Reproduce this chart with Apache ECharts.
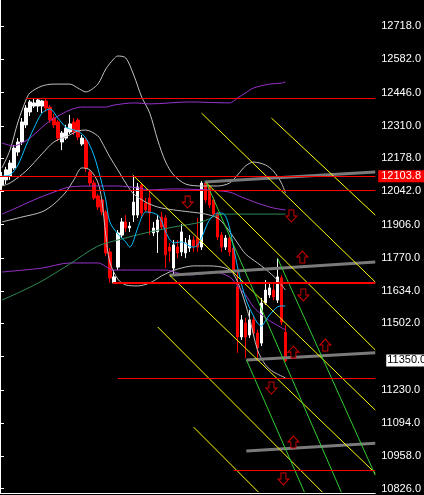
<!DOCTYPE html>
<html><head><meta charset="utf-8">
<script src="https://cdn.jsdelivr.net/npm/echarts@6/dist/echarts.min.js"></script>
<style>html,body{margin:0;padding:0;background:#000;}#c{width:424px;height:495px;}</style>
</head><body><div id="c"></div>
<script>
// ---------- DATA ----------
const slotCount = 94; // bars + empty space to the right
const candles = [ // [open, close, low, high]
[12068,12101,12048,12121],[12089,12130,12072,12142],[12105,12158,12089,12170],[12138,12219,12130,12232],
[12203,12244,12187,12260],[12244,12326,12232,12342],[12314,12383,12301,12395],[12367,12408,12350,12416],
[12391,12404,12383,12420],[12391,12416,12367,12424],[12391,12412,12363,12416],[12412,12383,12367,12420],
[12387,12334,12322,12395],[12342,12314,12301,12359],[12326,12260,12248,12334],[12244,12281,12211,12289],
[12260,12301,12252,12314],[12285,12318,12277,12355],[12326,12285,12273,12342],[12334,12264,12252,12342],
[12236,12260,12228,12273],[12252,12138,12121,12260],[12121,12076,12064,12130],[12076,12015,12007,12089],
[12023,11978,11966,12031],[12007,11958,11945,12015],[11958,11790,11777,11966],[11794,11687,11667,11810],
[11667,11692,11663,11720],[11732,11872,11720,11884],[11863,11917,11851,11933],[11917,11892,11876,11945],
[11892,11900,11876,11917],[11945,11998,11917,12101],[11945,12060,11933,12076],[12068,11953,11941,12076],
[11994,11966,11958,12015],[12015,11953,11863,12039],[11872,11892,11859,11917],[11876,11925,11790,11945],
[11937,11896,11884,11958],[11933,11782,11728,11945],[11814,11798,11753,11831],[11728,11823,11700,11843],
[11814,11790,11769,11843],[11794,11876,11777,11908],[11790,11831,11769,11851],[11810,11843,11794,11863],
[11843,11818,11794,11859],[11851,11814,11794,11933],[11814,12076,11802,12084],[12076,12007,11994,12084],
[12056,11986,11974,12068],[12007,11949,11941,12019],[11949,11855,11843,11958],[11863,11814,11794,11876],
[11814,11851,11802,11863],[11851,11794,11777,11863],[11810,11720,11704,11823],[11651,11446,11381,11720],
[11446,11516,11434,11536],[11503,11446,11360,11524],[11454,11516,11442,11556],[11516,11462,11450,11532],
[11462,11401,11360,11475],[11421,11585,11409,11606],[11585,11638,11577,11679],[11618,11647,11606,11671],
[11638,11610,11597,11667],[11597,11692,11585,11769],[11688,11507,11495,11700],[11466,11350,11344,11495]
];
// indicator lines: [bar index, value]
const cyanMA = [[0,12105],[2,12109],[4,12150],[6,12228],[8,12301],[10,12362],[12,12379],[14,12342],[16,12305],[18,12293],[19,12289],[21,12260],[23,12191],[25,12076],[26,12007],[27,11917],[29,11868],[31,11835],[32,11814],[34,11892],[35,11937],[36,11958],[38,11953],[39,11945],[40,11921],[41,11876],[43,11831],[45,11835],[47,11818],[48,11814],[49,11822],[50,11851],[51,11892],[52,11925],[54,11953],[55,11953],[56,11941],[57,11892],[58,11814],[59,11733],[60,11663],[61,11606],[62,11565],[63,11532],[64,11503],[65,11491],[66,11512],[67,11536],[69,11569],[70,11573],[71,11573]];
const purpleHigh = [[0,12240],[3,12228],[5,12240],[7,12260],[9,12289],[11,12318],[14,12350],[17,12375],[20,12387],[26,12387],[28,12395],[33,12404],[37,12400],[47,12408],[57,12404],[59,12424],[61,12445],[63,12465],[67,12481],[70,12485],[71,12490]];
const purpleMid = [[0,11949],[3,11970],[8,12007],[13,12039],[17,12060],[23,12064],[29,12064],[34,12056],[37,12048],[43,12052],[51,12048],[57,12039],[60,12019],[64,11994],[68,11974],[71,11966]];
const purpleLow = [[0,11712],[10,11728],[17,11749],[24,11749],[28,11720],[35,11720],[41,11720],[44,11708],[47,11700],[50,11704],[53,11712],[57,11692],[59,11655],[61,11618],[63,11569],[66,11524],[68,11503],[71,11475]];
const greenMA = [[0,11597],[5,11634],[10,11675],[17,11745],[24,11818],[30,11847],[36,11872],[43,11896],[50,11917],[54,11945],[57,11949],[71,11949]];
const bbUpper = [[0,12138],[2,12211],[4,12326],[6,12416],[7,12445],[10,12473],[13,12481],[17,12481],[19,12465],[21,12449],[24,12481],[26,12543],[28,12584],[29,12596],[31,12588],[33,12518],[35,12428],[37,12363],[39,12252],[41,12162],[43,12109],[46,12072],[50,12064],[54,12064],[57,12076],[59,12109],[61,12146],[63,12162],[66,12150],[68,12125],[70,12076],[71,12035]];
const bbMiddle = [[0,12064],[2,12076],[6,12125],[10,12195],[13,12244],[17,12273],[19,12289],[21,12293],[24,12269],[25,12244],[27,12183],[29,12130],[31,12076],[33,12031],[36,11998],[39,11978],[43,11966],[47,11958],[51,11949],[54,11933],[56,11900],[59,11831],[61,11786],[64,11749],[66,11724],[69,11679],[71,11638]];
const bbLower = [[0,11917],[5,11937],[10,11958],[13,11990],[16,12039],[18,12089],[20,12138],[22,12130],[24,12080],[25,12007],[26,11863],[27,11753],[29,11683],[31,11659],[34,11655],[37,11667],[40,11696],[42,11712],[44,11724],[48,11737],[52,11737],[56,11728],[58,11704],[60,11630],[62,11524],[64,11393],[66,11332],[68,11303],[71,11279]];
// horizontal levels: [from slot, to slot, price, width]
const redLevels = [[6.5,94,12422,1],[0,94,12045.5,1],[28.25,94,11667,2],[29.5,94,11276,1],[58.5,94,10899.6,1]];
const markedLevel = 12103.8;
const lastPrice = 11350.0;
// trend lines: [[slot, price],[slot, price]]
const grayLines = [[[51.25,12080],[94,12121]],[[42.5,11699],[94,11753]],[[61.7,11352],[94,11382]],[[61.7,10979],[94,11011]]];
const yellowLines = [[[68,12342],[94,11945]],[[50.5,12362],[94,11671]],[[51.75,12076],[94,11393]],[[33.25,12109],[94,11147]],[[42.5,11699],[94,10889]],[[39.5,11487],[80.75,10811]],[[48.5,11077],[64.75,10811]]];
const greenLines = [[[51.75,12076],[85.5,10811]],[[61.75,11352],[76.25,10811]],[[69.5,11769],[94,10881]]];
const arrowsUp = [[75.75,11773],[81.5,11413],[73.5,11384],[73.5,11016]];
const arrowsDown = [[47,11998],[73,11941],[76,11618],[68,11237],[71,10865]];
const tickValues = [12718,12582,12446,12310,12178,12042,11906,11770,11634,11502,11366,11230,11094,10958,10826];
const tickLabels = [12718,12582,12446,12310,12178,12042,11906,11770,11634,11502,11230,11094,10958,10826];
const yMin = 10807.5, yMax = 12825.2;

// ---------- CHART ----------
const chart = echarts.init(document.getElementById('c'));
const cats = Array.from({length: slotCount}, (_, i) => String(i + 1));
const atBar = pts => pts.map(p => [p[0] + 0.5, p[1]]);
function ln(data, color, width, smooth, z) {
  return {type:'line', xAxisIndex:1, yAxisIndex:0, data, symbol:'none', showSymbol:false,
    smooth: smooth || false, lineStyle:{color, width, cap:'butt'}, itemStyle:{color},
    silent:true, animation:false, z: z || 3};
}
const series = [];
series.push({type:'candlestick', xAxisIndex:0, yAxisIndex:0, data:candles, barWidth:3,
  itemStyle:{color:'#ffffff', color0:'#ff0000', borderColor:'#ffffff', borderColor0:'#ff0000', borderWidth:1},
  silent:true, animation:false, z:2});
[[bbUpper,'#c0c0c0'],[bbMiddle,'#c0c0c0'],[bbLower,'#c0c0c0'],[purpleHigh,'#9932cc'],[purpleMid,'#9932cc'],
 [purpleLow,'#9932cc'],[greenMA,'#2e8b57'],[cyanMA,'#00bfff']].forEach(([d,c]) => series.push(ln(atBar(d), c, 1, 0.3)));
grayLines.forEach(s => series.push(ln(s, '#7a7a7a', 3)));
yellowLines.forEach(s => series.push(ln(s, '#ffff00', 1)));
greenLines.forEach(s => series.push(ln(s, '#32cd32', 1)));
redLevels.forEach(([a,b,p,w]) => series.push(ln([[a,p],[b,p]], '#ff0000', w, false, 10)));
const lblFont = {fontFamily:'"Liberation Sans Narrow", "Liberation Sans", Arial, sans-serif', fontSize:11};
series.push({type:'line', xAxisIndex:1, yAxisIndex:0, data:[], silent:true, animation:false, z:11,
  markLine:{symbol:'none', silent:true, animation:false,
    data:[
      {yAxis:markedLevel, lineStyle:{color:'#ff0000', width:1, type:'solid'},
       label:{show:true, position:'end', distance:3, formatter:()=>markedLevel.toFixed(1), color:'#ffffff',
         backgroundColor:'#ff0000', padding:[1,3,0,3], ...lblFont}},
      {yAxis:lastPrice, lineStyle:{color:'rgba(0,0,0,0)', width:1, type:'solid'},
       label:{show:true, position:'end', distance:11, formatter:()=>lastPrice.toFixed(1), color:'#000000',
         backgroundColor:'#ffffff', padding:[1,1,0,1], ...lblFont}}
    ]}});
const upPath = 'path://M5.5,0 L11,6 L8,6 L8,12 L3,12 L3,6 L0,6 Z';
const downPath = 'path://M3,0 L8,0 L8,6 L11,6 L5.5,12 L0,6 L3,6 Z';
[[arrowsUp, upPath],[arrowsDown, downPath]].forEach(([d,p]) => series.push({type:'scatter', xAxisIndex:1, yAxisIndex:0,
  data:d, symbol:p, symbolSize:[11,12], itemStyle:{color:'#000000', borderColor:'#ff0000', borderWidth:1},
  silent:true, animation:false, z:12}));

chart.setOption({
  backgroundColor:'#000000',
  animation:false,
  grid:{left:0, right:48, top:0, bottom:2, containLabel:false},
  xAxis:[
    {type:'category', data:cats, boundaryGap:true, axisLine:{show:true, lineStyle:{color:'#ffffff', width:1}},
     axisTick:{show:false}, axisLabel:{show:false}, splitLine:{show:false}},
    {type:'value', min:0, max:slotCount, show:false, splitLine:{show:false}}
  ],
  yAxis:[{type:'value', position:'right', min:yMin, max:yMax, scale:true,
    axisLine:{show:true, lineStyle:{color:'#ffffff', width:1}},
    axisTick:{show:true, length:4, inside:false, lineStyle:{color:'#ffffff'}, customValues:tickValues},
    axisLabel:{show:true, color:'#ffffff', margin:6, customValues:tickLabels, formatter:v=>Number(v).toFixed(1), ...lblFont},
    splitLine:{show:false}}],
  series
});
</script></body></html>
